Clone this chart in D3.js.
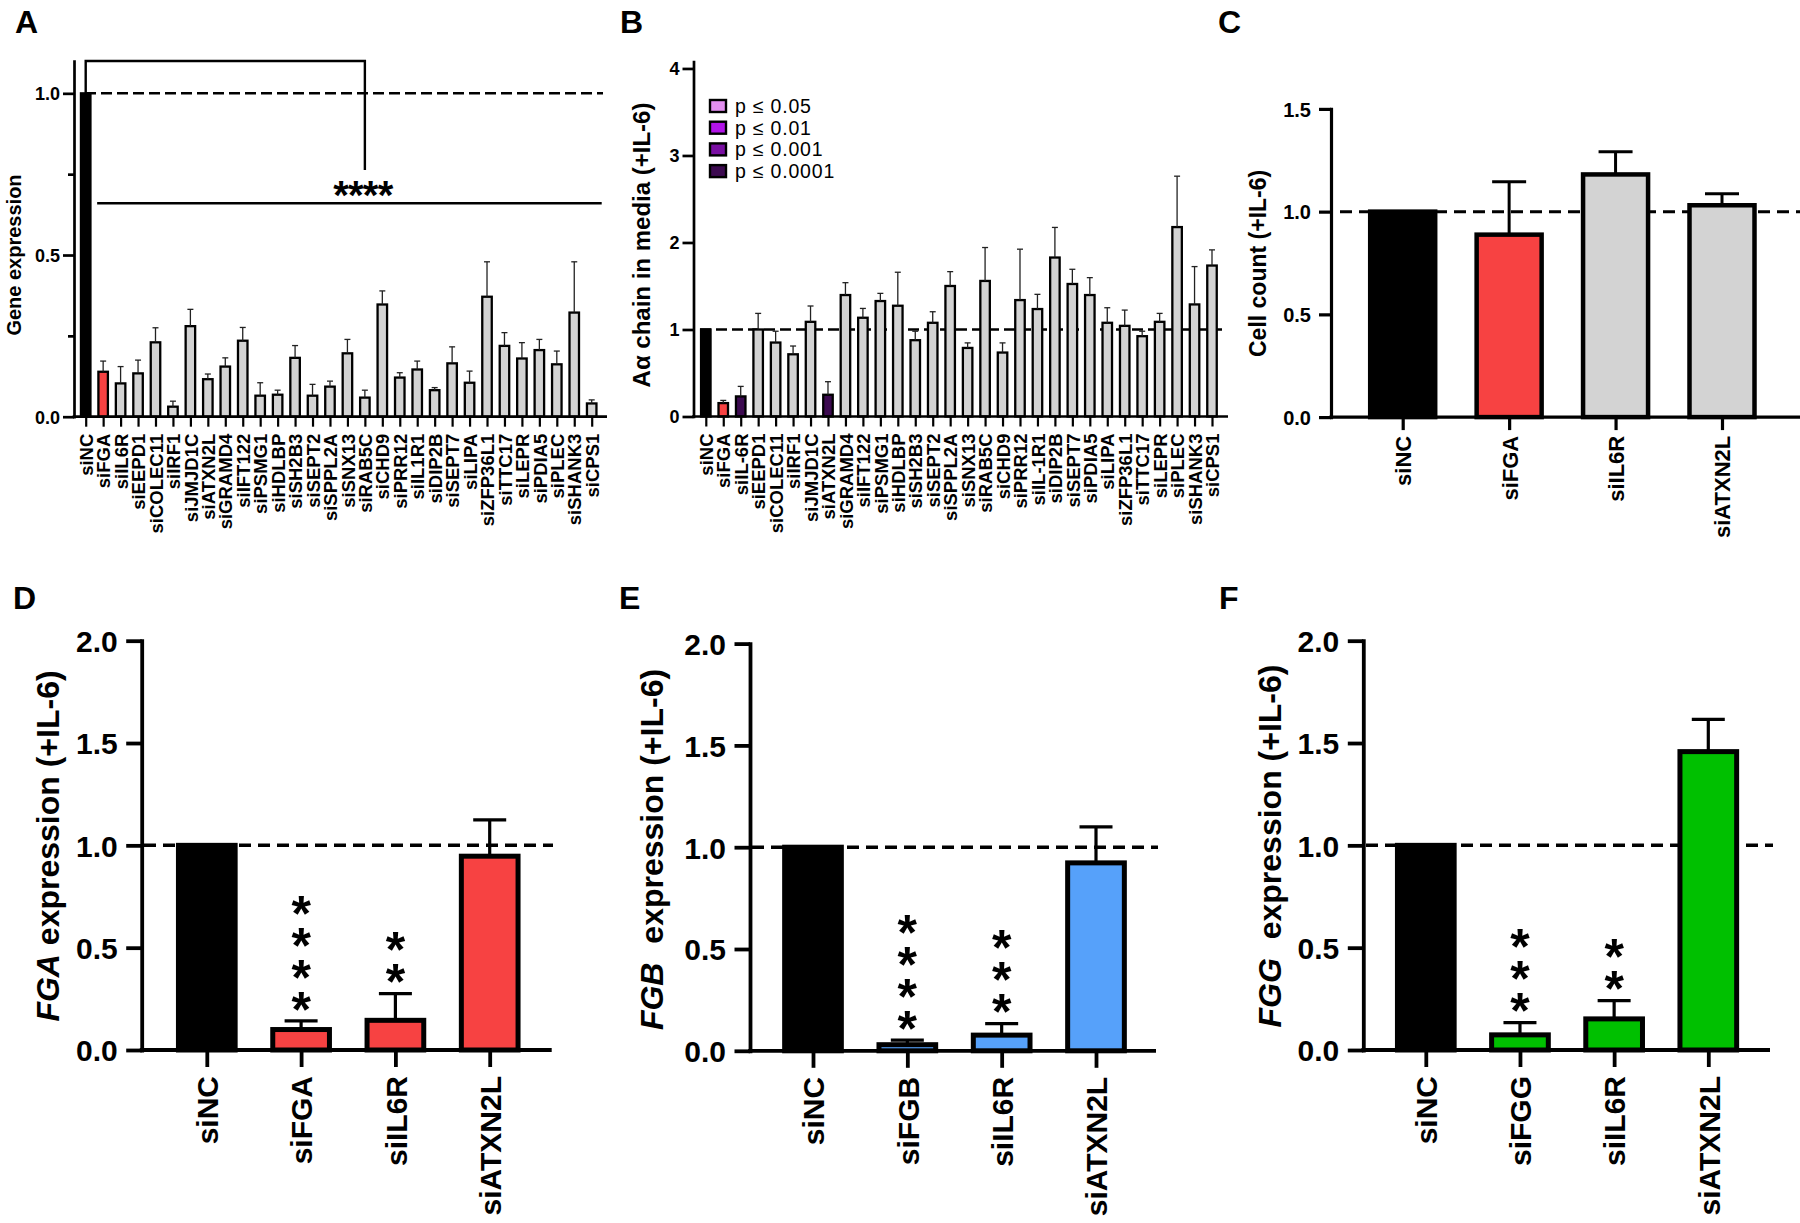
<!DOCTYPE html>
<html><head><meta charset="utf-8">
<script src="https://cdn.jsdelivr.net/npm/d3@7"></script>
<style>
body{margin:0;background:#fff}
svg{display:block}
text{font-family:'Liberation Sans',Arial,Helvetica,sans-serif}
</style>
</head><body>
<svg id="c" width="1800" height="1223"></svg>
<script>
// ---------------- DATA ----------------
const catA = ["siNC","siFGA","siIL6R","siEEPD1","siCOLEC11","siIRF1","siJMJD1C","siATXN2L","siGRAMD4","siIFT122","siPSMG1","siHDLBP","siSH2B3","siSEPT2","siSPPL2A","siSNX13","siRAB5C","siCHD9","siPRR12","siIL1R1","siDIP2B","siSEPT7","siLIPA","siZFP36L1","siTTC17","siLEPR","siPDIA5","siPLEC","siSHANK3","siCPS1"];
const valA = [1.0,0.139,0.103,0.134,0.230,0.031,0.280,0.116,0.155,0.235,0.065,0.068,0.182,0.065,0.093,0.196,0.059,0.347,0.121,0.146,0.082,0.165,0.105,0.371,0.219,0.180,0.206,0.162,0.322,0.041];
const sdA  = [0,0.033,0.052,0.041,0.045,0.017,0.052,0.016,0.027,0.041,0.040,0.014,0.038,0.035,0.017,0.043,0.023,0.042,0.015,0.026,0.008,0.051,0.036,0.108,0.041,0.049,0.033,0.041,0.157,0.011];
const tickA = [0, 0.5, 1.0];
const minorA = [0.25, 0.75];
const sigLabelA = "****";

const catB = ["siNC","siFGA","siIL-6R","siEEPD1","siCOLEC11","siIRF1","siJMJD1C","siATXN2L","siGRAMD4","siIFT122","siPSMG1","siHDLBP","siSH2B3","siSEPT2","siSPPL2A","siSNX13","siRAB5C","siCHD9","siPRR12","siIL-1R1","siDIP2B","siSEPT7","siPDIA5","siLIPA","siZFP36L1","siTTC17","siLEPR","siPLEC","siSHANK3","siCPS1"];
const valB = [1.0,0.154,0.231,1.0,0.85,0.715,1.088,0.25,1.396,1.135,1.327,1.273,0.877,1.077,1.5,0.788,1.558,0.735,1.338,1.235,1.827,1.523,1.396,1.077,1.042,0.923,1.088,2.177,1.288,1.735];
const sdB  = [0,0.031,0.115,0.185,0.13,0.095,0.182,0.15,0.142,0.107,0.088,0.385,0.103,0.127,0.165,0.058,0.384,0.111,0.585,0.169,0.346,0.169,0.2,0.173,0.181,0.057,0.097,0.585,0.435,0.18];
const sigB = [null,null,"p ≤ 0.0001",null,null,null,null,"p ≤ 0.0001",null,null,null,null,null,null,null,null,null,null,null,null,null,null,null,null,null,null,null,null,null,null];
const tickB = [0,1,2,3,4];
const legendB = ["p ≤ 0.05","p ≤ 0.01","p ≤ 0.001","p ≤ 0.0001"];

const catC = ["siNC","siFGA","siIL6R","siATXN2L"];
const valC = [1.0,0.888,1.181,1.031];
const sdC  = [0,0.257,0.11,0.056];
const tickC = [0,0.5,1.0,1.5];

const catD = ["siNC","siFGA","siIL6R","siATXN2L"];
const valD = [1.0,0.10,0.145,0.947];
const sdD  = [0,0.042,0.13,0.177];
const starsD = ["","****","**",""];

const catE = ["siNC","siFGB","siIL6R","siATXN2L"];
const valE = [1.0,0.030,0.077,0.923];
const sdE  = [0,0.022,0.056,0.177];
const starsE = ["","****","***",""];

const catF = ["siNC","siFGG","siIL6R","siATXN2L"];
const valF = [1.0,0.074,0.152,1.458];
const sdF  = [0,0.060,0.089,0.158];
const starsF = ["","***","**",""];

const tickDEF = [0,0.5,1.0,1.5,2.0];

// ---------------- STYLE ----------------
const FONT = "'Liberation Sans', Arial, Helvetica, sans-serif";
const BLACK = "#000", RED = "#f74242", GRAY = "#d3d3d3", BLUE = "#56a1fa", GREEN = "#00c000";
const legendColors = ["#e38ff0","#b214e8","#7a0fa3","#3c0a50"];

const svg = d3.select("#c");
svg.append("rect").attr("width",1800).attr("height",1223).attr("fill","#fff");

function panel(cfg){
  const g = svg.append("g");
  const y = d3.scaleLinear().domain(cfg.yDomain).range(cfg.yRange);
  const x = d3.scalePoint().domain(cfg.cats).range(cfg.centers);
  const y0 = y(0);
  const data = cfg.cats.map((c,i)=>({c, i, v:cfg.vals[i], sd:cfg.sds[i], fill:cfg.fill(c,i)}));

  // reference dashed line
  g.append("line").attr("x1",cfg.ref[0]).attr("x2",cfg.ref[1]).attr("y1",y(1)).attr("y2",y(1))
    .attr("stroke",BLACK).attr("stroke-width",cfg.refW).attr("stroke-dasharray",cfg.dash);

  // bars
  g.selectAll("rect.bar").data(data).join("rect").attr("class","bar")
    .attr("x",d=>x(d.c)-cfg.barW/2).attr("y",d=>y(d.v))
    .attr("width",cfg.barW).attr("height",d=>y0-y(d.v))
    .attr("fill",d=>d.fill).attr("stroke",BLACK).attr("stroke-width",cfg.barSW);

  // error bars (upper only)
  const eb = data.filter(d=>d.sd>0);
  g.selectAll("line.es").data(eb).join("line").attr("class","es")
    .attr("x1",d=>x(d.c)).attr("x2",d=>x(d.c)).attr("y1",d=>y(d.v)).attr("y2",d=>y(d.v+d.sd))
    .attr("stroke",cfg.errColor).attr("stroke-width",cfg.errW);
  g.selectAll("line.ec").data(eb).join("line").attr("class","ec")
    .attr("x1",d=>x(d.c)-cfg.capW/2).attr("x2",d=>x(d.c)+cfg.capW/2).attr("y1",d=>y(d.v+d.sd)).attr("y2",d=>y(d.v+d.sd))
    .attr("stroke",cfg.errColor).attr("stroke-width",cfg.errW);

  // y axis
  const ya = g.append("g").attr("transform",`translate(${cfg.axisX},0)`)
    .call(d3.axisLeft(y).tickValues(cfg.ticks).tickFormat(d3.format(cfg.fmt)).tickSize(cfg.tickLen).tickSizeOuter(0).tickPadding(cfg.tickPad));
  ya.attr("font-family",FONT).attr("font-size",cfg.tickFont);
  ya.select(".domain").attr("stroke",BLACK).attr("stroke-width",cfg.axisW).attr("stroke-linecap","square");
  ya.selectAll(".tick line").attr("stroke",BLACK).attr("stroke-width",cfg.axisW);
  ya.selectAll(".tick text").attr("font-weight","bold").attr("fill",BLACK).attr("dy","0.36em");
  if(cfg.minor){
    const ym = g.append("g").attr("transform",`translate(${cfg.axisX},0)`)
      .call(d3.axisLeft(y).tickValues(cfg.minor).tickFormat("").tickSize(cfg.minorLen).tickSizeOuter(0));
    ym.select(".domain").remove();
    ym.selectAll(".tick line").attr("stroke",BLACK).attr("stroke-width",cfg.axisW);
  }

  // x axis
  const xa = g.append("g").attr("transform",`translate(0,${y0})`)
    .call(d3.axisBottom(x).tickSize(cfg.xTickLen).tickSizeOuter(0));
  xa.select(".domain").remove();
  xa.attr("font-family",FONT).attr("font-size",cfg.xLabelFont);
  xa.selectAll(".tick line").attr("stroke",BLACK).attr("stroke-width",cfg.xTickW);
  xa.selectAll(".tick text").attr("transform","rotate(-90)").attr("text-anchor","end")
    .attr("x",-cfg.xLabelPad).attr("y",0).attr("dy","0.36em").attr("font-weight","bold").attr("fill",BLACK);
  g.append("line").attr("x1",cfg.axisX-cfg.axisW/2).attr("x2",cfg.xEnd).attr("y1",y0).attr("y2",y0)
    .attr("stroke",BLACK).attr("stroke-width",cfg.axisW);

  // y label
  const t = g.append("text").attr("transform",`translate(${cfg.ylabel.bx},${cfg.ylabel.cy}) rotate(-90)`)
    .attr("text-anchor","middle").attr("font-size",cfg.ylabel.font).attr("font-weight","bold").attr("fill",BLACK);
  if(cfg.ylabel.ital){
    t.append("tspan").attr("font-style","italic").text(cfg.ylabel.ital);
    t.append("tspan").attr("dx",cfg.ylabel.gap||0).text(cfg.ylabel.text);
  } else t.text(cfg.ylabel.text);

  // stacked significance stars: one rotated text run per stack, glyphs turned upright
  if(cfg.stars){
    const fs = cfg.starFont, adv = 0.389*fs, step = 32;
    data.forEach(d=>{
      const s = cfg.stars[d.i];
      if(!s.length) return;
      const cy0 = y(d.v+d.sd) - 22.5;          // centre of lowest star
      const yb = cy0 + 0.565*fs;                 // its baseline
      g.append("text")
        .attr("transform",`translate(${x(d.c)-adv/2},${yb}) rotate(-90)`)
        .attr("x",0).attr("y",0).attr("rotate","90")
        .attr("letter-spacing",step-adv)
        .attr("font-size",fs).attr("font-weight","bold").attr("fill",BLACK).text(s);
    });
  }
  return {g,x,y};
}

function letter(t,x,y){
  svg.append("text").attr("x",x).attr("y",y).attr("font-size",32).attr("font-weight","bold").attr("fill",BLACK).text(t);
}

// ---------------- PANEL A ----------------
const smallCommon = {barW:9.5, barSW:2.3, errW:1.3, errColor:"#222", capW:6, tickLen:11, minorLen:6, tickPad:3,
  tickFont:18, axisW:2.7, xTickLen:10, xLabelPad:17, xLabelFont:18.5, xTickW:2.2, refW:2.5, dash:"11,5"};
const pA = panel(Object.assign({}, smallCommon, {
  cats:catA, vals:valA, sds:sdA,
  fill:(c,i)=> i===0?BLACK:(i===1?RED:GRAY),
  yDomain:[0,1.1], yRange:[416.7,61], ticks:tickA, minor:minorA, fmt:".1f",
  axisX:74, xEnd:607, centers:[85.7,591.7], ref:[85,603],
  ylabel:{text:"Gene expression", font:20, bx:21, cy:255}
}));
// significance bracket
{
  const {g,x,y} = pA;
  const xa = x(catA[0]), xb = x("siRAB5C");
  g.append("path").attr("d",`M${xa},${y(1)}V${y(1.1)}H${xb}V${y(0.763)}`)
    .attr("fill","none").attr("stroke",BLACK).attr("stroke-width",2.4);
  g.append("line").attr("x1",x(catA[1])-6).attr("x2",x(catA[catA.length-1])+10).attr("y1",y(0.66)).attr("y2",y(0.66))
    .attr("stroke",BLACK).attr("stroke-width",2.4);
  g.append("text").attr("x",xb-2).attr("y",209).attr("text-anchor","middle").attr("font-size",40)
    .attr("letter-spacing",-0.8).attr("font-weight","bold").attr("fill",BLACK).text(sigLabelA);
}
letter("A",15,33);

// ---------------- PANEL B ----------------
panel(Object.assign({}, smallCommon, {
  cats:catB, vals:valB, sds:sdB,
  fill:(c,i)=> i===0?BLACK:(i===1?RED:(sigB[i]?legendColors[legendB.indexOf(sigB[i])]:GRAY)),
  yDomain:[0,4.08], yRange:[416.5,61.5], ticks:tickB, fmt:"d",
  axisX:693.5, xEnd:1228, centers:[705.8,1212], ref:[700,1222],
  ylabel:{text:"Aα chain in media (+IL-6)", font:24, bx:650, cy:245}
}));
// legend
{
  const lg = svg.append("g");
  lg.selectAll("rect").data(legendB).join("rect")
    .attr("x",710).attr("y",(d,i)=>100+i*21.7).attr("width",16).attr("height",12)
    .attr("fill",(d,i)=>legendColors[i]).attr("stroke",BLACK).attr("stroke-width",2.4);
  lg.selectAll("text").data(legendB).join("text")
    .attr("x",735).attr("y",(d,i)=>106+i*21.7+7).attr("font-size",19.5).attr("letter-spacing",0.8)
    .attr("fill",BLACK).text(d=>d);
}
letter("B",620,33);

// ---------------- PANEL C ----------------
panel({
  cats:catC, vals:valC, sds:sdC,
  fill:(c,i)=> i===0?BLACK:(i===1?RED:GRAY),
  yDomain:[0,1.5], yRange:[417.1,108.9], ticks:tickC, fmt:".1f",
  axisX:1331, xEnd:1800, centers:[1402.7,1722],
  barW:65, barSW:4.5, errW:3, errColor:BLACK, capW:34, tickLen:12, tickPad:8, tickFont:20, axisW:3.2,
  xTickLen:13, xLabelPad:18.7, xLabelFont:22, xTickW:3.2, ref:[1340,1800], refW:3, dash:"12,7",
  ylabel:{text:"Cell count (+IL-6)", font:23, bx:1265.5, cy:263.4}
});
letter("C",1218,33);

// ---------------- PANELS D, E, F ----------------
const bigCommon = {ticks:tickDEF, fmt:".1f", yDomain:[0,2], barW:56.7, barSW:5, errW:3.2, errColor:BLACK, capW:33,
  tickLen:15.5, tickPad:8.5, tickFont:30, axisW:3.8, xTickLen:17, xLabelPad:26, xLabelFont:30, xTickW:3.8,
  refW:3.5, dash:"12,7", starFont:50};
panel(Object.assign({}, bigCommon, {
  cats:catD, vals:valD, sds:sdD, stars:starsD,
  fill:(c,i)=> i===0?BLACK:RED,
  yRange:[1050,640.7], axisX:141.7, xEnd:551.7, centers:[206.8,489.7], ref:[144,553],
  ylabel:{ital:"FGA", text:" expression (+IL-6)", font:32, bx:59, cy:846}
}));
letter("D",13,609);
panel(Object.assign({}, bigCommon, {
  cats:catE, vals:valE, sds:sdE, stars:starsE,
  fill:(c,i)=> i===0?BLACK:BLUE,
  yRange:[1050.8,643.6], axisX:750, xEnd:1156, centers:[813,1096], ref:[752,1158],
  ylabel:{ital:"FGB", text:" expression (+IL-6)", gap:10, font:32, bx:663, cy:849.5}
}));
letter("E",619,609);
panel(Object.assign({}, bigCommon, {
  cats:catF, vals:valF, sds:sdF, stars:starsF,
  fill:(c,i)=> i===0?BLACK:GREEN,
  yRange:[1050,640.7], axisX:1363.3, xEnd:1770, centers:[1425.8,1708.3], ref:[1366,1773],
  ylabel:{ital:"FGG", text:" expression (+IL-6)", gap:10, font:32, bx:1281, cy:846}
}));
letter("F",1219,609);
</script>
</body></html>
